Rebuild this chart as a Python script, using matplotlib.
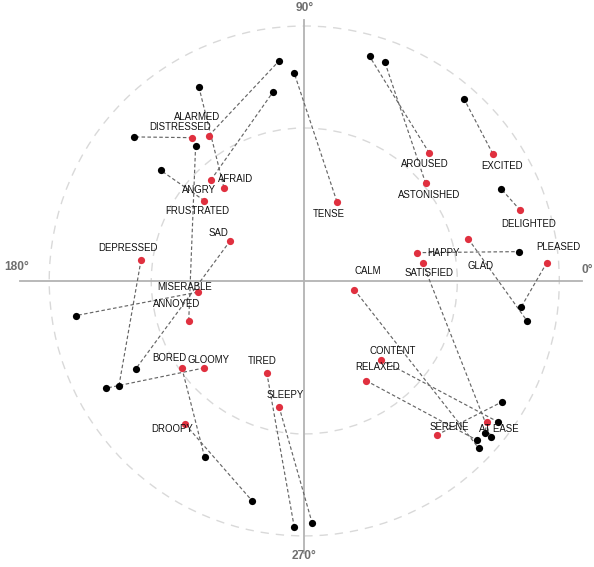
import numpy as np
import matplotlib
matplotlib.use("Agg")
import matplotlib.pyplot as plt
from matplotlib.patches import Circle

plt.rcParams['font.family'] = ['Liberation Sans', 'DejaVu Sans']

# emotion words on the valence/arousal plane
words = ['ALARMED', 'DISTRESSED', 'AFRAID', 'ANGRY', 'FRUSTRATED', 'SAD',
         'DEPRESSED', 'MISERABLE', 'ANNOYED', 'BORED', 'GLOOMY', 'TIRED',
         'SLEEPY', 'DROOPY', 'TENSE', 'AROUSED', 'ASTONISHED', 'EXCITED',
         'DELIGHTED', 'HAPPY', 'GLAD', 'PLEASED', 'SATISFIED', 'CALM',
         'CONTENT', 'RELAXED', 'SERENE', 'AT EASE']

# reference positions (red)
ref_x = [-0.374, -0.439, -0.315, -0.366, -0.392, -0.290, -0.640, -0.418,
         -0.453, -0.480, -0.392, -0.147, -0.099, -0.467, 0.128, 0.490,
         0.476, 0.739, 0.847, 0.441, 0.643, 0.951, 0.464, 0.196,
         0.300, 0.242, 0.520, 0.715]
ref_y = [0.570, 0.562, 0.366, 0.396, 0.315, 0.158, 0.082, -0.044,
         -0.156, -0.341, -0.341, -0.360, -0.493, -0.562, 0.311, 0.502,
         0.383, 0.499, 0.277, 0.111, 0.165, 0.072, 0.072, -0.034,
         -0.309, -0.391, -0.604, -0.552]

# estimated positions (black)
est_x = [-0.098, -0.669, -0.413, -0.122, -0.563, -0.660, -0.727, -0.896,
         -0.426, -0.391, -0.779, -0.039, 0.031, -0.204, -0.040, 0.256,
         0.316, 0.627, 0.773, 0.841, 0.873, 0.850, 0.732, 0.684,
         0.758, 0.678, 0.774, 0.709]
est_y = [0.864, 0.565, 0.760, 0.742, 0.434, -0.344, -0.413, -0.136,
         0.531, -0.690, -0.421, -0.967, -0.950, -0.863, 0.817, 0.881,
         0.858, 0.713, 0.360, 0.115, -0.156, -0.103, -0.611, -0.656,
         -0.552, -0.625, -0.475, -0.597]

# label offsets from the red point, in pixels
label_dx = [-12, -12, 12, -12, -7, -12, -13, -13, -12, -12, 4, -5, 6, -13,
            -8, -4, 4, 9, 8, 27, 12, 12, 6, 13, 12, 12, 12, 12]
label_dy = [19, 11, 9, -10, -10, 8, 12, 5, 17, 10, 8, 12, 12, -5,
            -12, -11, -12, -12, -14, 0, -27, 16, -10, 19, 9, 14, 8, -7]

degree_labels = ['0°', '90°', '180°', '270°']
degree_pos = [(1.131, 0.043, 'right'), (0.0, 1.071, 'center'),
              (-1.127, 0.055, 'center'), (0.0, -1.078, 'center')]

fig = plt.figure(figsize=(5.94, 5.67), dpi=100)
ax = fig.add_axes([0, 0, 1, 1])
ax.set_xlim(-1.193, 1.136)
ax.set_ylim(-1.122, 1.102)
ax.axis('off')

for r in (0.6, 1.0):
    ax.add_patch(Circle((0, 0), r, fill=False, ec='#d9d9d9', lw=1.0,
                        ls=(0, (6, 5)), zorder=1))

ax.plot([-1.115, 1.089], [0, 0], color='#b3b3b3', lw=1.3, zorder=2)
ax.plot([0, 0], [-1.067, 1.024], color='#b3b3b3', lw=1.3, zorder=2)

for x0, y0, x1, y1 in zip(ref_x, ref_y, est_x, est_y):
    ax.plot([x0, x1], [y0, y1], color='#666666', lw=0.85,
            ls=(0, (3, 2)), zorder=3)

ax.scatter(est_x, est_y, s=27, color='black', zorder=4, linewidths=0)
ax.scatter(ref_x, ref_y, s=27, color='#e0303f', zorder=5, linewidths=0)

for w, x, y, dx, dy in zip(words, ref_x, ref_y, label_dx, label_dy):
    ax.annotate(w, (x, y), xytext=(dx, dy), textcoords='offset pixels',
                ha='center', va='center', fontsize=6.9, color='#111111',
                zorder=6)

for txt, (x, y, ha) in zip(degree_labels, degree_pos):
    ax.text(x, y, txt, ha=ha, va='center', fontsize=8.6,
            fontweight='bold', color='#6e6e6e')

fig.savefig('out.png', dpi=100)
